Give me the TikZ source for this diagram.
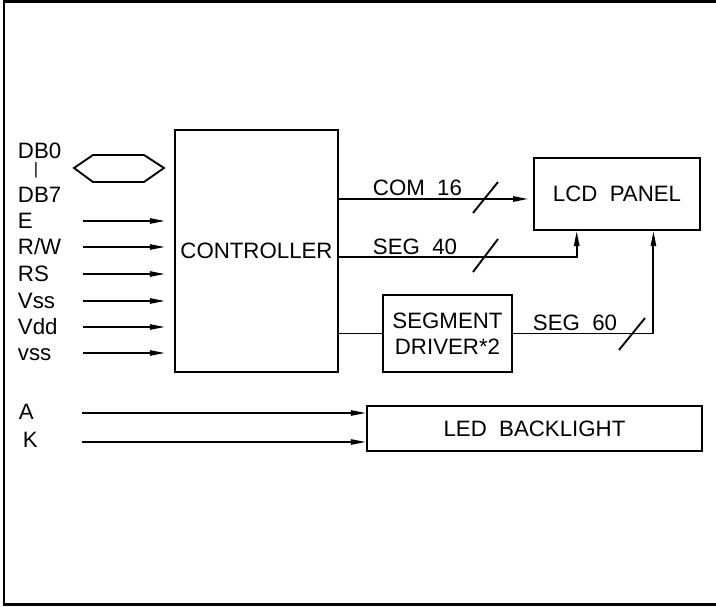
\documentclass[tikz,border=0pt]{standalone}
\usepackage{fontspec}
\setmainfont{Liberation Sans}
\usetikzlibrary{arrows.meta,calc}

\begin{document}
\begin{tikzpicture}[x=0.03cm, y=-0.03cm, line width=1.6pt,
  >={Triangle[length=13pt,width=4.5pt]},
  every node/.style={font=\fontsize{19pt}{22pt}\selectfont, inner sep=0pt},
  blk/.style={draw, line width=1.6pt},
  lbl/.style={anchor=base west},
  sig/.style={->}]

  \useasboundingbox (0,0) rectangle (716,607);
  \draw[line width=2.2pt] (4,1.5) rectangle (740,604.5);

  % blocks
  \node[blk, minimum width=4.89cm, minimum height=7.26cm] (ctrl) at (256.5,251) {CONTROLLER};
  \node[blk, minimum width=4.98cm, minimum height=2.16cm] (lcd) at (617,194) {LCD~~PANEL};
  \node[blk, minimum width=3.87cm, minimum height=2.31cm, align=center] (drv) at (447.5,333.5) {SEGMENT\\DRIVER*2};
  \node[blk, minimum width=10.05cm, minimum height=1.35cm] (led) at (534.5,428.5) {LED~~BACKLIGHT};

  % data bus
  \node[lbl] (db0) at (17,158) {DB0};
  \node[font=\fontsize{14pt}{16pt}\selectfont] (dbbar) at (36,170) {|};
  \node[lbl] (db7) at (17,202) {DB7};
  \draw (74,168) -- (93,155) -- (144,155) -- (164,168) -- (144,182) -- (93,182) -- cycle;

  % control inputs
  \foreach \name/\y [count=\i] in {E/221, {R/W}/247, RS/274, Vss/301, Vdd/327, vss/353}{
    \node[lbl] (in\i) at (17,\y+7) {\name};
    \coordinate (s\i) at (83,\y);
    \draw[sig, shorten >=0.27cm] (s\i) -- (ctrl.west |- s\i);
  }

  % backlight inputs
  \node[lbl] (a) at (18,419) {A};
  \node[lbl] (k) at (22,447) {K};
  \coordinate (sa) at (82,413);
  \coordinate (sk) at (82,442);
  \draw[sig] (sa) -- (led.west |- sa);
  \draw[sig] (sk) -- (led.west |- sk);

  % outputs
  \coordinate (p40) at ($(lcd.south west)!0.26!(lcd.south east)$);
  \coordinate (p60) at ($(lcd.south west)!0.717!(lcd.south east)$);
  \draw[sig, shorten >=4pt] (ctrl.east |- 0,199) -- (lcd.west |- 0,199);
  \draw[sig] (ctrl.east |- 0,257) -| (p40);
  \draw (ctrl.east |- drv.west) -- (drv.west);
  \draw[sig] (drv.east) -| (p60);

  \node[lbl] (com) at (372,195) {COM~~16};
  \node[lbl] (seg40) at (372,254) {SEG~~40};
  \node[lbl] (seg60) at (532,330) {SEG~~60};

  % bus ticks
  \draw (473,213) -- +(25,-31);
  \draw (473,272) -- +(25,-33);
  \draw (619,350) -- +(26,-32);

\end{tikzpicture}
\end{document}
